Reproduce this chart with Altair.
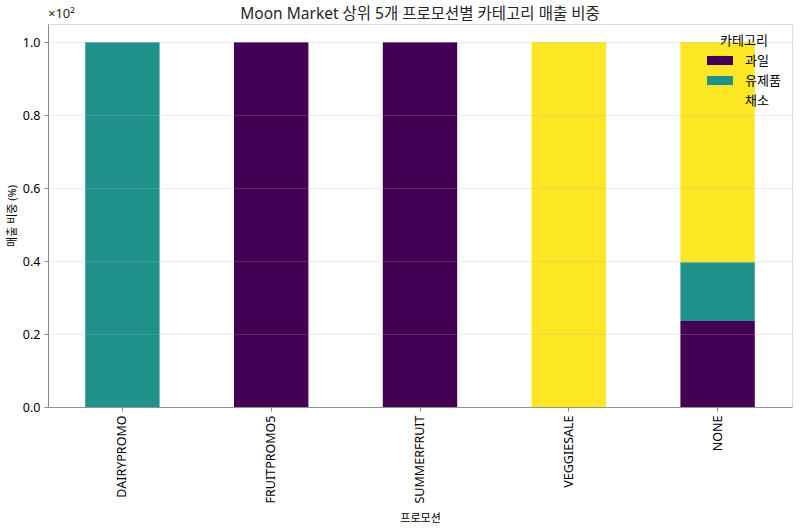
import altair as alt
import pandas as pd

promotions = ["DAIRYPROMO", "FRUITPROMO5", "SUMMERFRUIT", "VEGGIESALE", "NONE"]
categories = ["과일", "유제품", "채소"]
fruit = [0.0, 1.0, 1.0, 0.0, 0.236]
dairy = [1.0, 0.0, 0.0, 0.0, 0.161]
veggie = [0.0, 0.0, 0.0, 1.0, 0.603]
colors = ["#440154", "#21918c", "#fde725"]
y_ticks = [0.0, 0.2, 0.4, 0.6, 0.8, 1.0]

rows = []
for i, p in enumerate(promotions):
    for k, (c, vals) in enumerate(zip(categories, [fruit, dairy, veggie])):
        if vals[i] > 0:
            rows.append({"promo": p, "cat": c, "share": vals[i], "ord": k})
df = pd.DataFrame(rows)

FONT = "'Noto Sans', 'Noto Sans CJK KR', sans-serif"
TXT = "#262626"

bars = alt.Chart(df).mark_bar().encode(
    x=alt.X("promo:N", sort=promotions, title="프로모션",
            scale=alt.Scale(paddingInner=0.5, paddingOuter=0.25),
            axis=alt.Axis(labelAngle=-90, labelFontSize=12.5, titleFontSize=11,
                          titleFontWeight="normal", labelFont=FONT, titleFont=FONT,
                          tickSize=4, labelPadding=4, titlePadding=10, grid=False)),
    y=alt.Y("share:Q", stack="zero", title="매출 비중 (%)",
            scale=alt.Scale(domain=[0, 1.05], nice=False),
            axis=alt.Axis(values=y_ticks, format=".1f", labelFontSize=12.5,
                          titleFontSize=11, titleFontWeight="normal",
                          labelFont=FONT, titleFont=FONT,
                          tickSize=4, labelPadding=4,
                          titlePadding=5, grid=True, gridColor="#b0b0b0",
                          gridOpacity=0.25, zindex=1)),
    color=alt.Color("cat:N", scale=alt.Scale(domain=categories, range=colors),
                    legend=alt.Legend(title="카테고리", orient="none",
                                      legendX=672, legendY=11, padding=0,
                                      symbolType="M-3,-0.7H1V0.7H-3Z",
                                      symbolSize=169, symbolStrokeWidth=0,
                                      labelOffset=12, labelFontSize=13,
                                      titleFontSize=13, titleFontWeight="normal",
                                      labelFont=FONT, titleFont=FONT,
                                      titlePadding=6, rowPadding=6,
                                      titleAnchor="start")),
    order=alt.Order("ord:Q", sort="ascending"),
)

mult = alt.Chart(pd.DataFrame({"t": ["×10²"]})).mark_text(
    align="left", baseline="bottom", fontSize=13, color=TXT, font=FONT
).encode(x=alt.value(0), y=alt.value(-3), text="t:N")

chart = alt.layer(bars, mult).properties(
    width=744, height=383,
    title=alt.TitleParams("Moon Market 상위 5개 프로모션별 카테고리 매출 비중",
                          fontSize=15.5, fontWeight="normal", anchor="middle",
                          offset=-14, color=TXT, font=FONT),
    autosize=alt.AutoSizeParams(type="none"),
    padding={"left": 48, "top": 24, "right": 8, "bottom": 121},
).configure_view(stroke="#333333", strokeWidth=1).configure_axis(
    domainColor="#333333", tickColor="#333333", labelColor=TXT, titleColor=TXT
).configure_legend(labelColor=TXT, titleColor=TXT
).configure(background="white", font=FONT)

chart.save("out.html", embed_options={"renderer": "svg", "actions": False})
